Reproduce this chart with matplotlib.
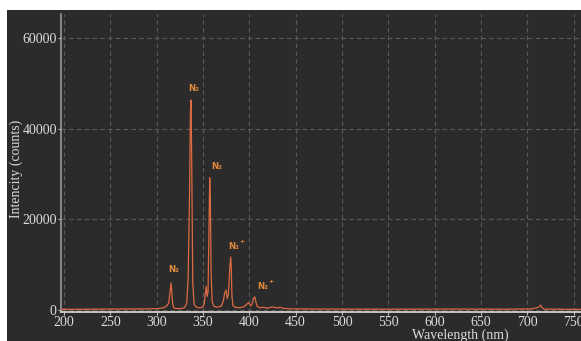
import matplotlib
matplotlib.use("Agg")
import matplotlib.pyplot as plt
from matplotlib.patches import Rectangle

# Spectrum (wavelength nm, intensity counts)
wavelength = [196, 250, 290, 300, 305, 310, 313, 314.5, 315.5, 316.3, 317.2, 318.5, 320, 325, 330,
              332.5, 334, 335.5, 336.5, 337.2, 338, 339, 340.5, 343, 347, 350, 351.5, 352.5,
              353.5, 354.5, 355.5, 356.5, 357.3, 358, 358.8, 360, 362, 366, 370, 372, 373.5,
              375, 376.2, 377.5, 379, 380, 380.6, 381.3, 382.5, 385, 390, 394, 397, 399,
              400, 401.5, 403, 404.5, 406, 407, 408.5, 411, 415, 420, 425, 430, 433, 437,
              445, 480, 550, 620, 680, 705, 712, 714.5, 716, 718, 730, 760]
intensity = [150, 200, 250, 300, 400, 700, 1500, 4000, 6000, 4200, 1500, 500, 350, 300, 500,
             1500, 7000, 25000, 44000, 46400, 30000, 6000, 1200, 600, 500, 700, 1500, 3500,
             5200, 3000, 4000, 18000, 29200, 24000, 8000, 1800, 800, 600, 900, 2000, 3800,
             4400, 2500, 3500, 9500, 11700, 9000, 3000, 900, 600, 500, 700, 1200, 1600,
             1400, 900, 1300, 2600, 2900, 1900, 800, 500, 600, 400, 700, 450, 600, 350,
             250, 200, 180, 200, 180, 250, 600, 1100, 500, 200, 180, 150]

x_ticks = [200, 250, 300, 350, 400, 450, 500, 550, 600, 650, 700, 750]
y_ticks = [0, 20000, 40000, 60000]

# Peak annotations
ann_labels = ["N\u2082", "N\u2082", "N\u2082", "N\u2082", "N\u2082"]
ann_x = [318.5, 340.5, 364.5, 383.5, 415]
ann_y = [9000, 49000, 31600, 14000, 5100]
ann_plus = [False, False, False, True, True]

W, H = 581, 341
bg = "#2b2b2b"
fig = plt.figure(figsize=(W / 100, H / 100), dpi=100)
fig.patch.set_facecolor(bg)
# white margins (top strip and left strip)
fig.patches.append(Rectangle((0, 1 - 10 / H), 1, 10 / H, transform=fig.transFigure,
                             facecolor="white", edgecolor="none", zorder=-10))
fig.patches.append(Rectangle((0, 0), 7 / W, 1, transform=fig.transFigure,
                             facecolor="white", edgecolor="none", zorder=-10))

ax = fig.add_axes([61 / W, (H - 312) / H, (W - 61) / W, (312 - 14) / H])
ax.set_facecolor(bg)

ax.plot(wavelength, intensity, color="#dc6a42", lw=0.9, zorder=3)

ax.set_xlim(196.8, 758)
ax.set_ylim(-440, 65400)
ax.set_xticks(x_ticks)
ax.set_yticks(y_ticks)

serif = "Liberation Serif"
tc = "#dcdcdc"
ax.set_xticklabels([str(v) for v in x_ticks], fontfamily=serif, fontsize=10, color=tc)
ax.set_yticklabels([str(v) for v in y_ticks], fontfamily=serif, fontsize=10, color=tc)
ax.tick_params(axis="both", colors="#bbbbbb", length=2.5, width=0.8, pad=0.5)
for lbl in ax.get_xticklabels() + ax.get_yticklabels():
    lbl.set_color(tc)

ax.grid(True, color="#5a5a5a", lw=0.8, ls=(0, (4, 3)))
ax.set_axisbelow(True)
for s in ["top", "right"]:
    ax.spines[s].set_visible(False)
ax.spines["left"].set_color("#9a9a9a")
ax.spines["left"].set_linewidth(1.2)
ax.spines["bottom"].set_color("#e8dcd6")
ax.spines["bottom"].set_linewidth(1.2)

ax.set_ylabel("Intencity (counts)", fontfamily=serif, fontsize=10, color=tc)
ax.yaxis.set_label_coords(-0.074, 0.48)
ax.set_xlabel("Wavelength (nm)", fontfamily=serif, fontsize=10, color=tc)
ax.xaxis.set_label_coords(0.767, -0.056)

lab_c = "#e08a3e"
for lab, xv, yv, plus in zip(ann_labels, ann_x, ann_y, ann_plus):
    ax.text(xv, yv, lab, color=lab_c, fontsize=6.2, fontweight="bold",
            fontfamily="DejaVu Sans", ha="center", va="center", zorder=4)
    if plus:
        ax.annotate("+", xy=(xv, yv), xytext=(5.5, 4), textcoords="offset points",
                    color=lab_c, fontsize=4.5, fontweight="bold", ha="center", va="center")

fig.savefig("out.png", dpi=100, facecolor=fig.get_facecolor())
